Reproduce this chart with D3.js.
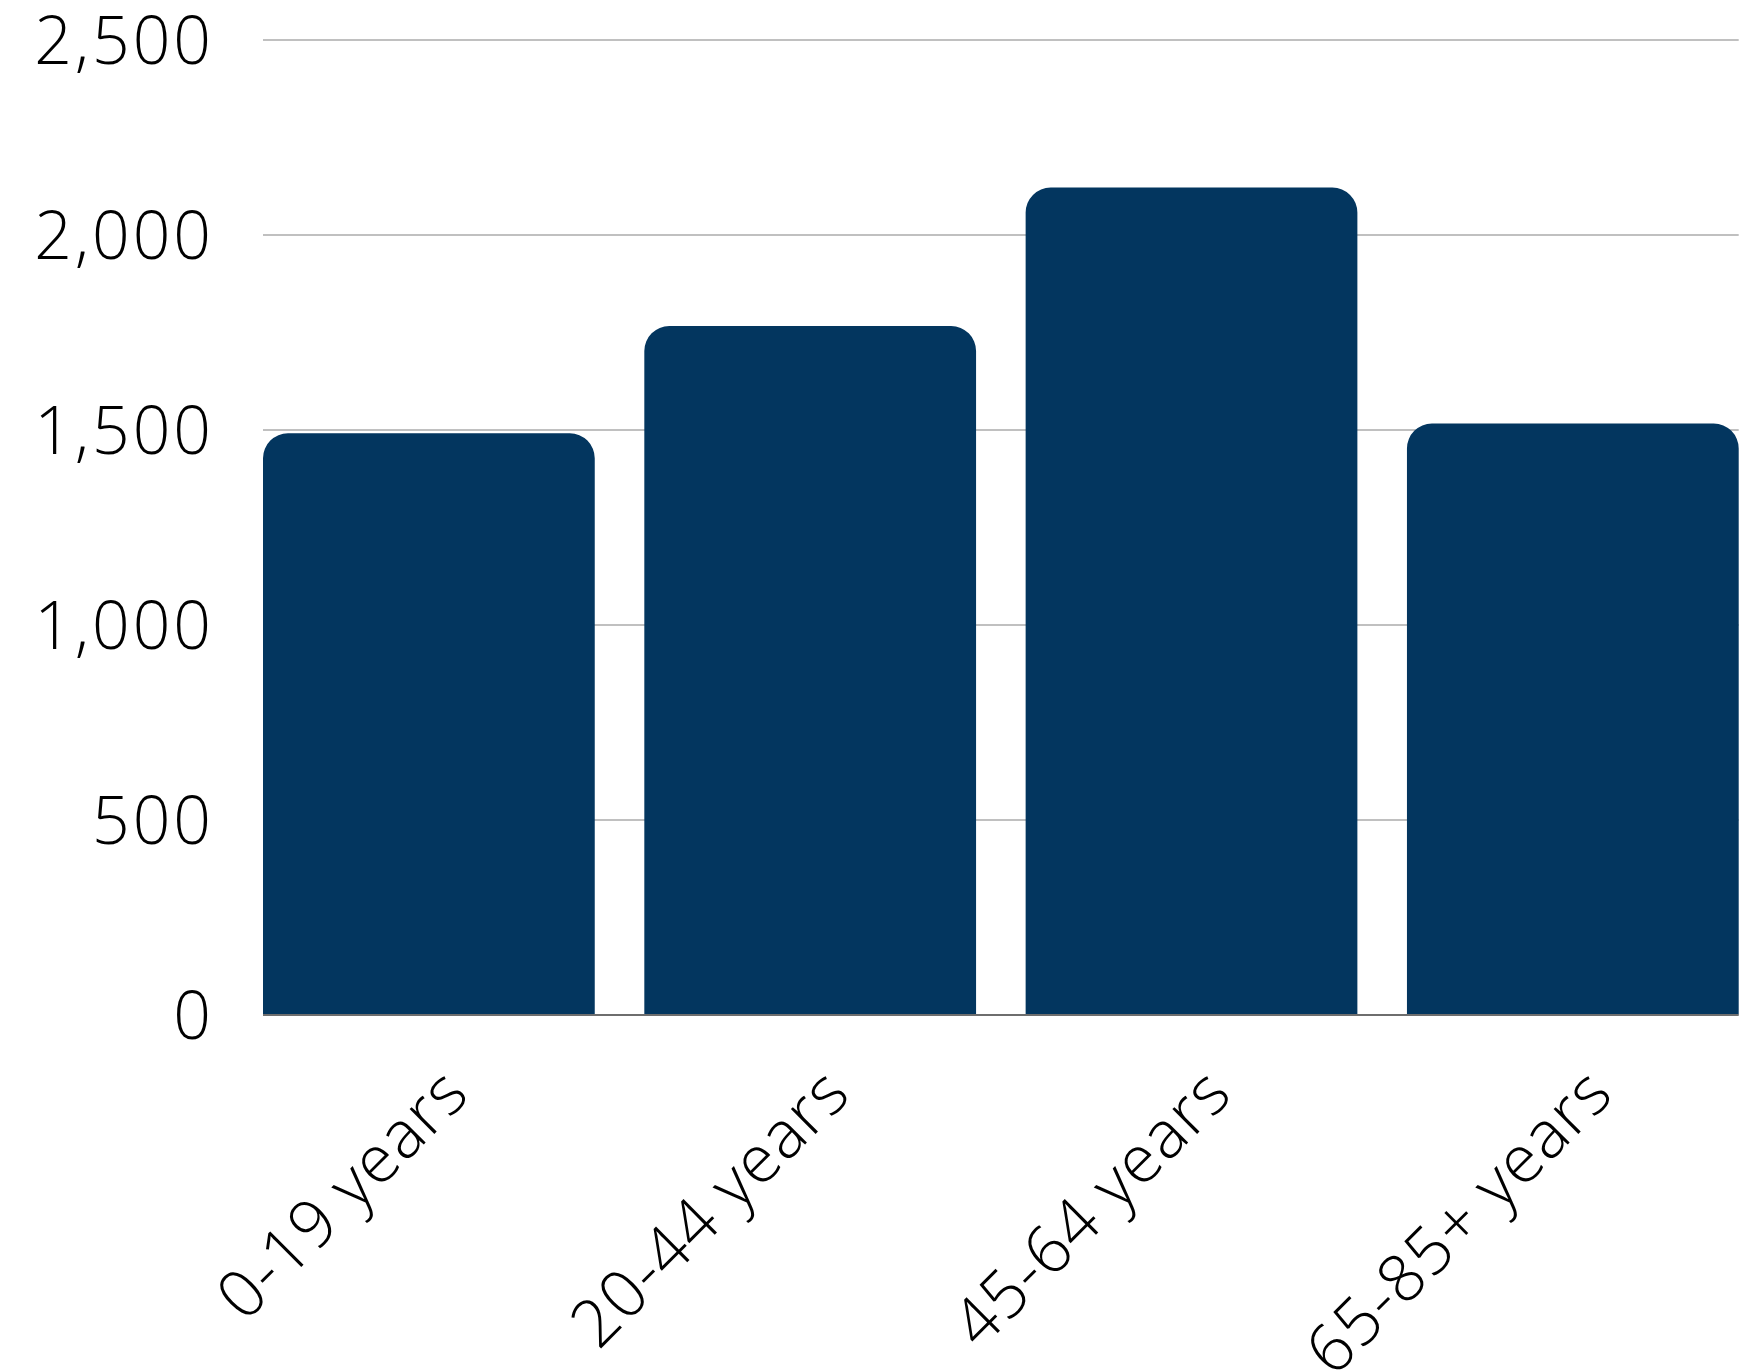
<!DOCTYPE html>
<html>
<head>
<meta charset="utf-8">
<script src="https://cdn.jsdelivr.net/npm/d3@7"></script>
<style>
  html, body { margin: 0; padding: 0; background: #ffffff; }
  svg { display: block; }
  text { font-family: "Open Sans", "Noto Sans", sans-serif; fill: #000; }
</style>
</head>
<body>
<svg id="chart" width="1742" height="1372"></svg>
<script>
// Population by age group
const categories = ["0-19 years", "20-44 years", "45-64 years", "65-85+ years"];
const values = [1490, 1765, 2120, 1515];
const yTicks = [0, 500, 1000, 1500, 2000, 2500];

const W = 1742, H = 1372;
const margin = { top: 39.4, right: 3.3, bottom: 357.6, left: 263 };
const plotW = W - margin.left - margin.right;
const plotH = H - margin.top - margin.bottom;

const svg = d3.select("#chart");

const x = d3.scaleBand()
  .domain(categories)
  .range([margin.left, margin.left + plotW])
  .paddingInner(0.13)
  .paddingOuter(0);

const y = d3.scaleLinear()
  .domain([0, 2500])
  .range([margin.top + plotH, margin.top]);

// horizontal gridlines
const grid = svg.append("g")
  .attr("transform", `translate(${margin.left},0)`)
  .call(d3.axisLeft(y).tickValues(yTicks.filter(d => d > 0)).tickSize(-plotW).tickFormat(""));
grid.select(".domain").remove();
grid.selectAll(".tick line").attr("stroke", "#c0c0c0").attr("stroke-width", 2);

// bars with rounded top corners
const r = 25;
function barPath(x0, w, yTop, yBase) {
  const rr = Math.min(r, w / 2, (yBase - yTop) / 2);
  return `M${x0},${yBase}` +
    `V${yTop + rr}` +
    `A${rr},${rr} 0 0 1 ${x0 + rr},${yTop}` +
    `H${x0 + w - rr}` +
    `A${rr},${rr} 0 0 1 ${x0 + w},${yTop + rr}` +
    `V${yBase}Z`;
}

svg.append("g")
  .selectAll("path")
  .data(categories.map((c, i) => ({ c, v: values[i] })))
  .join("path")
  .attr("fill", "#03365f")
  .attr("d", d => barPath(x(d.c), x.bandwidth(), y(d.v), y(0)));

// baseline
svg.append("line")
  .attr("x1", margin.left).attr("x2", margin.left + plotW)
  .attr("y1", y(0) + 0.5).attr("y2", y(0) + 0.5)
  .attr("stroke", "#6e6e6e").attr("stroke-width", 2);

// y axis labels
const yAxis = svg.append("g")
  .attr("transform", `translate(${margin.left},0)`)
  .call(d3.axisLeft(y).tickValues(yTicks).tickSize(0).tickPadding(49).tickFormat(d3.format(",")));
yAxis.select(".domain").remove();
yAxis.selectAll("text")
  .attr("font-size", 66)
  .attr("font-weight", 300)
  .attr("letter-spacing", 3)
  .attr("dy", "0.36em")
  .style("font-family", "'Open Sans', sans-serif")
  .attr("fill", "#000");

// x axis labels, rotated
const xAxis = svg.append("g")
  .attr("transform", `translate(0,${y(0)})`)
  .call(d3.axisBottom(x).tickSize(0));
xAxis.select(".domain").remove();
xAxis.selectAll("text")
  .attr("font-size", 66)
  .attr("font-weight", 300)
  .attr("letter-spacing", 1.2)
  .attr("y", 0)
  .attr("dy", 0)
  .attr("text-anchor", "end")
  .attr("transform", "translate(43,82) rotate(-45)")
  .style("font-family", "'Open Sans', sans-serif")
  .attr("fill", "#000");
</script>
</body>
</html>
